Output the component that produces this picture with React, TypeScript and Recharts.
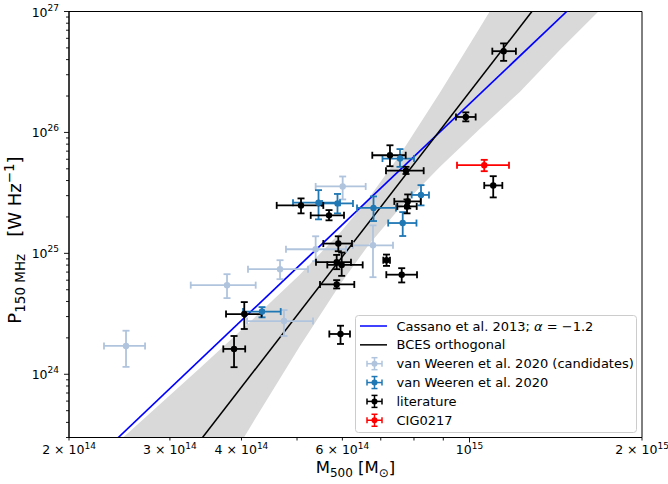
import React from 'react';
import {
  ComposedChart,
  XAxis,
  YAxis,
  Area,
  Line,
  Scatter,
  ErrorBar,
  ReferenceArea,
} from 'recharts';

// M500 in units of 1e14 Msun, P150 in units of 1e24 W/Hz

// van Weeren et al. 2020 (candidates)
const candM = [2.515, 3.774, 4.67, 4.745, 5.389, 6.785, 6.007];
const candP = [1.714, 5.458, 7.393, 2.755, 10.81, 11.66, 35.74];
const candMErr = [[0.213, 0.2], [0.512, 0.461], [0.564, 0.556], [0.655, 0.587], [0.606, 0.699], [0.524, 0.568], [0.618, 0.582]];
const candPErr = [[0.563, 0.578], [1.194, 1.267], [1.277, 1.38], [0.682, 0.641], [2.2, 3.03], [5.31, 5.38], [7.82, 7.47]];

// van Weeren et al. 2020
const vwM = [4.344, 5.451, 5.883, 6.799, 7.563, 8.229, 7.646];
const vwP = [3.3, 26.23, 25.88, 23.76, 60.81, 30.41, 17.81];
const vwMErr = [[0.319, 0.339], [0.531, 0.492], [0.355, 0.378], [0.436, 0.643], [0.514, 0.438], [0.302, 0.268], [0.433, 0.435]];
const vwPErr = [[0.344, 0.294], [7.13, 7.09], [4.47, 5.11], [5.26, 5.8], [8.86, 12.01], [5.49, 6.23], [3.9, 4.13]];

// literature
const litM = [4.045, 3.882, 5.081, 5.686, 7.264, 7.748, 7.801, 7.779, 5.902, 5.864, 5.983, 5.864, 5.955, 7.164, 7.615, 11.47, 9.852, 11.0];
const litP = [3.147, 1.62, 24.92, 20.61, 64.74, 48.24, 26.88, 24.45, 12.05, 8.445, 8.024, 5.531, 2.153, 8.773, 6.662, 469.7, 134.2, 36.43];
const litMErr = [[0.286, 0.29], [0.164, 0.178], [0.473, 0.476], [0.403, 0.353], [0.498, 0.475], [0.599, 0.57], [0.409, 0.418], [0.298, 0.309], [0.345, 0.334], [0.468, 0.347], [0.336, 0.527], [0.38, 0.43], [0.262, 0.231], [0.092, 0.1], [0.457, 0.483], [0.51, 0.58], [0.381, 0.398], [0.39, 0.41]];
const litPErr = [[0.779, 0.806], [0.476, 0.453], [3.51, 3.54], [1.86, 2.18], [12.2, 13.55], [2.93, 3.71], [3.34, 3.82], [3.04, 3.47], [1.64, 1.79], [1.05, 1.26], [1.51, 2.13], [0.405, 0.47], [0.372, 0.368], [0.9, 1.0], [0.917, 0.875], [79.0, 75.1], [10.8, 12.3], [7.42, 7.03]];

// CIG0217
const cigM = [10.61];
const cigP = [53.56];
const cigMErr = [[1.1, 1.11]];
const cigPErr = [[5.77, 5.77]];

// fitted relations (end points)
const cassanoM = [2.438, 14.78];
const cassanoP = [0.3, 1000];
const bcesM = [3.42, 12.85];
const bcesP = [0.3, 1000];

// BCES confidence band
const bandM = [2.455, 2.505, 2.769, 3.386, 4.139, 5.06, 5.943, 6.651, 7.563, 8.882, 10.43, 12.25, 14.39, 16.89, 18.31];
const bandLo = [0.00582, 0.00659, 0.01521, 0.0748, 0.3636, 1.714, 5.531, 11.58, 23.81, 52.05, 107.5, 217.3, 481.6, 1029, 1504];
const bandHi = [0.2851, 0.3106, 0.4763, 1.129, 2.709, 6.699, 14.78, 28.03, 65.36, 213.7, 736.7, 2603, 9288, 33320, 63270];

const xTicks = [2, 3, 4, 5, 6, 7, 8, 9, 10, 20];
const xTickLabels: Record<number, [string, string]> = {
  2: ['2 × 10', '14'],
  3: ['3 × 10', '14'],
  4: ['4 × 10', '14'],
  6: ['6 × 10', '14'],
  10: ['10', '15'],
  20: ['2 × 10', '15'],
};
const yTicks = [
  0.3, 0.4, 0.5, 0.6, 0.7, 0.8, 0.9, 1, 2, 3, 4, 5, 6, 7, 8, 9, 10,
  20, 30, 40, 50, 60, 70, 80, 90, 100, 200, 300, 400, 500, 600, 700, 800, 900, 1000,
];
const yTickLabels: Record<number, string> = { 1: '24', 10: '25', 100: '26', 1000: '27' };

const toPoints = (m: number[], p: number[], em: number[][], ep: number[][]) =>
  m.map((x, i) => ({ x, y: p[i], ex: em[i], ey: ep[i] }));

const candData = toPoints(candM, candP, candMErr, candPErr);
const vwData = toPoints(vwM, vwP, vwMErr, vwPErr);
const litData = toPoints(litM, litP, litMErr, litPErr);
const cigData = toPoints(cigM, cigP, cigMErr, cigPErr);
const cassanoData = cassanoM.map((x, i) => ({ x, y: cassanoP[i] }));
const bcesData = bcesM.map((x, i) => ({ x, y: bcesP[i] }));
const bandData = bandM.map((x, i) => ({ x, band: [bandLo[i], bandHi[i]] }));

const C_CAND = '#b0c4de';
const C_VW = '#1f77b4';
const C_LIT = '#000000';
const C_CIG = '#ff0000';

const XTick = ({ x, y, payload }: any) => {
  const v = payload.value;
  const lab = xTickLabels[v];
  const len = v === 10 ? 5 : 3;
  return (
    <g>
      <line x1={x} y1={y} x2={x} y2={y + len} stroke="#000" strokeWidth={0.9} />
      {lab && (
        <text x={x} y={y + 16.5} textAnchor="middle" fontSize={12.5} fill="#000">
          {lab[0]}
          <tspan dy={-5.5} fontSize={9}>{lab[1]}</tspan>
        </text>
      )}
    </g>
  );
};

const YTick = ({ x, y, payload }: any) => {
  const v = payload.value;
  const lab = yTickLabels[v];
  const len = lab ? 5 : 3;
  return (
    <g>
      <line x1={x - len} y1={y} x2={x} y2={y} stroke="#000" strokeWidth={0.9} />
      {lab && (
        <text x={x - 10} y={y + 5} textAnchor="end" fontSize={12.5} fill="#000">
          10
          <tspan dy={-6} fontSize={9}>{lab}</tspan>
        </text>
      )}
    </g>
  );
};

const XTitle = () => (
  <text x={355.5} y={473} textAnchor="middle" fontSize={16.5} fill="#000">
    M<tspan dy={4} fontSize={12}>500</tspan>
    <tspan dy={-4}> [M</tspan>
    <tspan dy={4} fontSize={12}>⊙</tspan>
    <tspan dy={-4}>]</tspan>
  </text>
);

const YTitle = () => (
  <text x={20.5} y={240} transform="rotate(-90, 20.5, 240)" textAnchor="middle" fontSize={18} fill="#000">
    P<tspan dy={4.5} fontSize={13.5}>150 MHz</tspan>
    <tspan dy={-4.5} dx={17}>[W Hz</tspan>
    <tspan dy={-7} fontSize={13.5}>−1</tspan>
    <tspan dy={7}>]</tspan>
  </text>
);

const dot = (color: string) => (p: any) => <circle cx={p.cx} cy={p.cy} r={3.2} fill={color} />;

const legendRows = [
  { kind: 'line', color: '#0000ff', label: 'cassano' },
  { kind: 'line', color: '#000000', label: 'BCES orthogonal' },
  { kind: 'err', color: C_CAND, label: 'van Weeren et al. 2020 (candidates)' },
  { kind: 'err', color: C_VW, label: 'van Weeren et al. 2020' },
  { kind: 'err', color: C_LIT, label: 'literature' },
  { kind: 'err', color: C_CIG, label: 'CIG0217' },
];

const LegendBox = () => (
  <svg
    width={282}
    height={118}
    style={{ position: 'absolute', left: 355, top: 315 }}
  >
    <rect x={0.5} y={0.5} width={281} height={117} rx={3} fill="#fff" fillOpacity={0.8} stroke="#cccccc" />
    {legendRows.map((r, i) => {
      const cy = 11 + i * 18.85;
      return (
        <g key={i}>
          {r.kind === 'line' ? (
            <line x1={5} y1={cy} x2={32} y2={cy} stroke={r.color} strokeWidth={1.5} />
          ) : (
            <g stroke={r.color} strokeWidth={1.5}>
              <line x1={12} y1={cy} x2={27} y2={cy} />
              <line x1={12} y1={cy - 3} x2={12} y2={cy + 3} />
              <line x1={27} y1={cy - 3} x2={27} y2={cy + 3} />
              <line x1={19.5} y1={cy - 6} x2={19.5} y2={cy + 6} />
              <line x1={16.5} y1={cy - 6} x2={22.5} y2={cy - 6} />
              <line x1={16.5} y1={cy + 6} x2={22.5} y2={cy + 6} />
              <circle cx={19.5} cy={cy} r={3} fill={r.color} stroke="none" />
            </g>
          )}
          <text x={41.5} y={cy + 4.6} fontSize={13} fill="#000">
            {r.label === 'cassano' ? (
              <>
                Cassano et al. 2013; <tspan fontStyle="italic">α</tspan> =  −1.2
              </>
            ) : (
              r.label
            )}
          </text>
        </g>
      );
    })}
  </svg>
);

export default function App() {
  return (
    <div style={{ position: 'relative', width: 668, height: 484, fontFamily: '"DejaVu Sans", sans-serif' }}>
      <style>{'body { margin: 0; }'}</style>
      <ComposedChart
        width={668}
        height={484}
        data={bandData}
        margin={{ top: 11.5, right: 26, bottom: 16.5, left: 9 }}
      >
        <XAxis
          dataKey="x"
          type="number"
          scale="log"
          domain={[2, 20]}
          allowDataOverflow
          ticks={xTicks}
          interval={0}
          tick={<XTick />}
          tickLine={false}
          tickSize={0}
          tickMargin={0}
          axisLine={{ stroke: '#000' }}
          height={30}
          label={{ content: () => <XTitle /> }}
        />
        <YAxis
          type="number"
          scale="log"
          domain={[0.3, 1000]}
          allowDataOverflow
          ticks={yTicks}
          interval={0}
          tick={<YTick />}
          tickLine={false}
          tickSize={0}
          tickMargin={0}
          axisLine={{ stroke: '#000' }}
          width={60}
          label={{ content: () => <YTitle /> }}
        />
        <Area
          dataKey="band"
          type="linear"
          fill="#d9d9d9"
          fillOpacity={1}
          stroke="none"
          isAnimationActive={false}
        />
        <Line data={cassanoData} dataKey="y" stroke="#0000ff" strokeWidth={1.7} dot={false} isAnimationActive={false} />
        <Line data={bcesData} dataKey="y" stroke="#000000" strokeWidth={1.5} dot={false} isAnimationActive={false} />
        <Scatter data={candData} dataKey="y" shape={dot(C_CAND)} isAnimationActive={false}>
          <ErrorBar dataKey="ex" direction="x" width={3.5} stroke={C_CAND} strokeWidth={1.8} />
          <ErrorBar dataKey="ey" direction="y" width={3.5} stroke={C_CAND} strokeWidth={1.8} />
        </Scatter>
        <Scatter data={vwData} dataKey="y" shape={dot(C_VW)} isAnimationActive={false}>
          <ErrorBar dataKey="ex" direction="x" width={3.5} stroke={C_VW} strokeWidth={1.8} />
          <ErrorBar dataKey="ey" direction="y" width={3.5} stroke={C_VW} strokeWidth={1.8} />
        </Scatter>
        <Scatter data={litData} dataKey="y" shape={dot(C_LIT)} isAnimationActive={false}>
          <ErrorBar dataKey="ex" direction="x" width={3.5} stroke={C_LIT} strokeWidth={1.8} />
          <ErrorBar dataKey="ey" direction="y" width={3.5} stroke={C_LIT} strokeWidth={1.8} />
        </Scatter>
        <Scatter data={cigData} dataKey="y" shape={dot(C_CIG)} isAnimationActive={false}>
          <ErrorBar dataKey="ex" direction="x" width={3.5} stroke={C_CIG} strokeWidth={1.8} />
          <ErrorBar dataKey="ey" direction="y" width={3.5} stroke={C_CIG} strokeWidth={1.8} />
        </Scatter>
        <ReferenceArea x1={2} x2={20} y1={0.3} y2={1000} fill="none" stroke="#000" strokeWidth={1} ifOverflow="visible" />
      </ComposedChart>
      <LegendBox />
    </div>
  );
}
